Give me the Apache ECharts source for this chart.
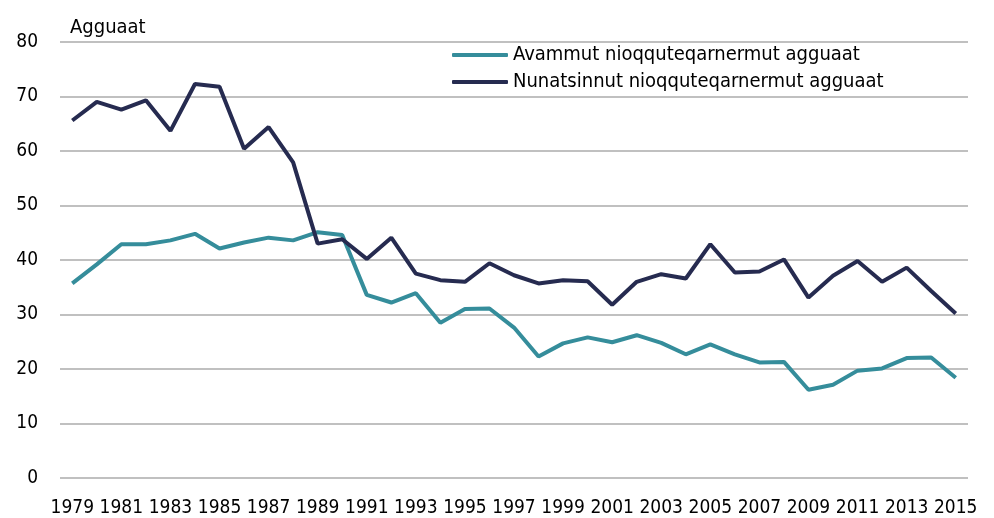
<!DOCTYPE html>
<html lang="en">
<head>
  <meta charset="UTF-8">
  <title>Agguaat</title>
  <script src="https://cdn.jsdelivr.net/npm/echarts@6.0.0/dist/echarts.min.js"></script>
  <style>
    html, body { margin: 0; padding: 0; background: #fff; }
    #chart { width: 994px; height: 518px; }
  </style>
</head>
<body>
  <div id="chart"></div>
  <script>
    const years = [];
    for (let y = 1979; y <= 2015; y++) years.push(String(y));

    const avammut = [35.7, 39.2, 42.9, 42.9, 43.6, 44.8, 42.1, 43.2, 44.1, 43.6, 45.1, 44.6,
      33.6, 32.2, 33.9, 28.5, 31.0, 31.1, 27.6, 22.3, 24.7, 25.8, 24.9, 26.2, 24.8,
      22.7, 24.5, 22.7, 21.2, 21.3, 16.2, 17.1, 19.7, 20.1, 22.0, 22.1, 18.4];

    const nunatsinnut = [65.6, 69.0, 67.6, 69.3, 63.7, 72.3, 71.8, 60.4, 64.4, 57.9, 43.0, 43.8,
      40.2, 44.1, 37.5, 36.3, 36.0, 39.4, 37.2, 35.7, 36.3, 36.1, 31.8, 36.0, 37.4,
      36.6, 42.9, 37.7, 37.9, 40.1, 33.1, 37.1, 39.8, 36.0, 38.6, 34.3, 30.2];

    const names = ['Avammut nioqquteqarnermut agguaat', 'Nunatsinnut nioqquteqarnermut agguaat'];
    const colors = ['#358d9b', '#262b50'];

    const font = '"DejaVu Sans Condensed", "Liberation Sans Narrow", sans-serif';

    const chart = echarts.init(document.getElementById('chart'));
    chart.setOption({
      animation: false,
      textStyle: { fontFamily: font },
      title: {
        text: 'Agguaat',
        left: 65,
        top: 13,
        textStyle: { fontFamily: font, fontSize: 20, fontWeight: 'normal', color: '#000' }
      },
      legend: {
        orient: 'vertical',
        left: 447,
        top: 39,
        itemWidth: 56,
        itemHeight: 4,
        itemGap: 5,
        icon: 'roundRect',
        textStyle: {
          fontFamily: font, fontSize: 20, color: '#000',
          backgroundColor: '#fff', padding: [1, 8, 1, 0]
        },
        data: names
      },
      grid: { left: 60, right: 26, top: 42, bottom: 39 },
      xAxis: {
        type: 'category',
        data: years,
        boundaryGap: true,
        axisLine: { show: false },
        axisTick: { show: false },
        axisLabel: { interval: 1, fontSize: 19, color: '#000', margin: 21, fontFamily: font }
      },
      yAxis: {
        type: 'value',
        min: 0,
        max: 80,
        interval: 10,
        axisLabel: { fontSize: 19, color: '#000', margin: 22, fontFamily: font },
        splitLine: { lineStyle: { color: '#c0c0c0', width: 2 } }
      },
      series: [
        {
          name: names[0],
          type: 'line',
          data: avammut,
          symbol: 'none',
          lineStyle: { color: colors[0], width: 4 },
          itemStyle: { color: colors[0] }
        },
        {
          name: names[1],
          type: 'line',
          data: nunatsinnut,
          symbol: 'none',
          lineStyle: { color: colors[1], width: 4 },
          itemStyle: { color: colors[1] }
        }
      ]
    });
  </script>
</body>
</html>
